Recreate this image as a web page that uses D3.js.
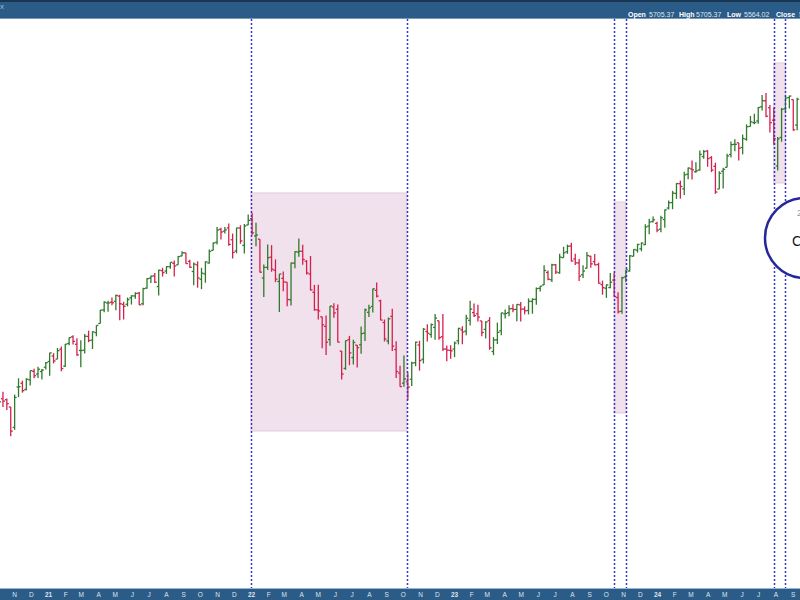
<!DOCTYPE html>
<html>
<head>
<meta charset="utf-8">
<script src="https://cdn.jsdelivr.net/npm/d3@7"></script>
<style>
  html, body { margin: 0; padding: 0; background: #fff; }
  svg { display: block; font-family: Arial, "Liberation Sans", sans-serif; }
</style>
</head>
<body>
<svg id="chart" width="800" height="600"></svg>
<script>
// ---------------- DATA ----------------
const firstWeek = "2020-10-05"; // Monday of the first weekly bar

const opens = [
  3348,3500,3493,3441,3296,3583,3610,3566,3634,3694,3675,3693,3723,
  3764,3803,3781,3851,3731,3892,3939,3886,3842,3844,3942,3916,3969,4034,4130,4179,4185,4192,4228,4169,4170,4216,4229,4249,4174,4285,4356,4372,4296,4409,4406,4437,4461,4450,4513,4535,4474,4403,4450,4348,4386,4463,4553,4610,4702,4689,4712,4628,4548,4711,4588,4733,
  4778,4655,4632,4357,4432,4505,4412,4332,4354,4327,4202,4462,4541,4547,4476,4385,4255,4130,4081,4013,3920,4151,4135,3838,3715,3920,3792,3880,3883,3966,4113,4155,4269,4195,4041,3910,4084,3849,3682,3610,3620,3638,3755,3881,3780,3977,3956,4006,4053,3940,3853,3843,
  3853,3911,3988,3979,4056,4111,4102,4052,3992,4055,3835,3918,3982,4102,4110,4140,4134,4166,4136,4126,4190,4205,4283,4308,4396,4344,4450,4394,4501,4543,4584,4492,4464,4380,4426,4511,4473,4452,4310,4284,4289,4342,4218,4121,4364,4406,4511,4554,4564,4593,4725,4758,
  4745,4703,4772,4853,4892,4957,5026,4989,5093,5131,5111,5123,5219,5258,5211,5149,4988,5114,5142,5233,5305,5316,5283,5341,5432,5459,5471,5572,5614,5565,5477,5152,5354,5557,5637,5623,5442
];
const highs = [
  3482,3550,3502,3441,3529,3645,3628,3645,3699,3712,3726,3711,3760,
  3826,3823,3860,3870,3889,3935,3950,3929,3915,3960,3983,3978,4020,4130,4191,4195,4219,4238,4237,4188,4218,4234,4255,4258,4287,4356,4372,4393,4415,4429,4440,4468,4481,4513,4546,4536,4486,4466,4475,4429,4475,4559,4608,4718,4714,4718,4744,4672,4713,4731,4740,4808,
  4818,4749,4632,4453,4595,4590,4489,4385,4402,4327,4465,4546,4637,4593,4483,4513,4308,4308,4082,4091,4158,4178,4168,3838,3913,3946,3918,3881,4012,4140,4167,4280,4325,4203,4062,4076,4139,3907,3733,3806,3685,3762,3905,3911,4001,4028,4034,4101,4053,4101,3877,3879,
  3906,4003,4015,4095,4195,4176,4166,4052,4049,4079,3937,4040,4110,4133,4163,4170,4170,4187,4155,4212,4212,4290,4299,4448,4409,4458,4456,4528,4578,4594,4607,4528,4491,4447,4541,4514,4527,4466,4338,4311,4393,4394,4256,4366,4415,4520,4560,4599,4609,4738,4778,4793,
  4755,4798,4842,4907,4975,5030,5048,5111,5141,5190,5179,5262,5265,5264,5222,5175,5114,5139,5239,5325,5342,5316,5375,5447,5506,5523,5570,5655,5669,5585,5566,5358,5563,5651,5651,5623,5636
];
const lows = [
  3342,3441,3419,3233,3279,3511,3543,3559,3594,3645,3647,3636,3707,
  3663,3750,3781,3694,3725,3880,3885,3805,3723,3820,3901,3853,3943,4034,4114,4118,4164,4128,4057,4062,4155,4168,4210,4165,4164,4280,4321,4321,4233,4367,4385,4422,4367,4450,4511,4457,4428,4305,4288,4278,4323,4460,4551,4595,4630,4672,4585,4495,4532,4600,4531,4733,
  4662,4582,4395,4222,4414,4401,4327,4115,4262,4157,4162,4425,4507,4450,4381,4268,4124,4062,3858,3811,3875,4074,3900,3636,3705,3738,3743,3722,3819,3910,4080,4112,4218,4057,3906,3886,3838,3647,3584,3585,3492,3590,3730,3699,3750,3906,3933,3919,3918,3838,3765,3784,
  3795,3885,3886,3950,4020,4079,4048,3944,3928,3847,3809,3888,3951,4069,4086,4114,4049,4048,4099,4098,4103,4166,4261,4307,4341,4328,4385,4386,4500,4528,4474,4449,4335,4356,4424,4430,4448,4316,4238,4216,4284,4223,4104,4103,4329,4402,4510,4537,4546,4591,4667,4751,
  4682,4682,4714,4842,4845,4918,4920,4946,5057,5056,5104,5118,5203,5146,5108,4954,4988,4991,5142,5211,5256,5191,5234,5331,5432,5447,5452,5546,5497,5390,5302,5120,5324,5535,5560,5402,5406
];
const closes = [
  3477,3483,3465,3270,3509,3585,3557,3638,3699,3663,3709,3703,3756,
  3825,3768,3841,3714,3887,3934,3907,3811,3842,3943,3913,3975,4020,4129,4185,4180,4181,4233,4174,4156,4204,4230,4247,4166,4281,4352,4370,4327,4412,4395,4437,4468,4442,4509,4535,4459,4433,4455,4357,4391,4471,4545,4605,4697,4683,4698,4595,4538,4712,4620,4726,4766,
  4677,4662,4398,4432,4501,4419,4349,4385,4329,4204,4463,4543,4546,4488,4392,4272,4132,4123,4024,3901,4158,4109,3901,3675,3912,3825,3899,3863,3962,4130,4145,4280,4228,4058,3924,4067,3873,3693,3586,3640,3583,3753,3901,3771,3993,3965,4026,4072,3934,3852,3845,3840,
  3895,3999,3973,4071,4136,4090,4079,3970,4045,3861,3917,3971,4109,4105,4138,4133,4169,4136,4124,4192,4205,4282,4299,4410,4348,4450,4399,4505,4536,4582,4478,4464,4370,4406,4516,4457,4450,4320,4288,4308,4327,4224,4117,4358,4415,4514,4559,4595,4604,4719,4754,4770,
  4697,4784,4840,4891,4959,5027,5006,5089,5137,5124,5117,5234,5254,5204,5123,4967,5100,5128,5223,5303,5305,5278,5347,5431,5465,5460,5567,5615,5505,5459,5346,5344,5554,5634,5648,5408,5626
];

// annotation lines (dotted verticals)
const eventDates = ["2022-01-01","2022-10-08","2023-10-16","2023-11-06","2024-07-29","2024-08-19"];
// shaded zones
const zoneStarts = ["2022-01-01","2023-10-16","2024-07-29"];
const zoneEnds   = ["2022-10-08","2023-11-06","2024-08-19"];
const zoneTops   = [4960, 4896, 5883];
const zoneBottoms= [3271, 3399, 5031];

// header quote
const quoteLabels = ["Open","High","Low","Close"];
const quoteValues = ["5705.37","5705.37","5564.02","5"];
const monthLetters = ["J","F","M","A","M","J","J","A","S","O","N","D"];
const axisFirstMonth = "2020-10-01";
const axisLastMonth = "2024-09-01";

// ---------------- SCALES ----------------
const W = 800, H = 600;
const plotTop = 19, plotBottom = 588;
const parse = d3.utcParse("%Y-%m-%d");

const x = d3.scaleUtc()
  .domain([parse("2021-01-01"), parse("2024-01-01")])
  .range([48, 657]);
const y = d3.scaleLinear()
  .domain([2156.5, 6329.7])
  .range([588, 0]);

const start = parse(firstWeek);
const bars = opens.map((o, i) => ({
  date: d3.utcDay.offset(start, 7 * i),
  o, h: highs[i], l: lows[i], c: closes[i]
}));

const svg = d3.select("#chart");
svg.append("rect").attr("width", W).attr("height", H).attr("fill", "#fff");

const plot = svg.append("g");

// shaded zones
plot.selectAll("rect.zone")
  .data(zoneStarts.map((s, i) => ({ s: parse(s), e: parse(zoneEnds[i]), t: zoneTops[i], b: zoneBottoms[i] })))
  .join("rect")
  .attr("class", "zone")
  .attr("x", d => x(d.s))
  .attr("width", d => x(d.e) - x(d.s))
  .attr("y", d => y(d.t))
  .attr("height", d => y(d.b) - y(d.t))
  .attr("fill", "#f0e1ec")
  .attr("stroke", "#e2c9dc")
  .attr("stroke-width", 1);

// OHLC bars
const green = "#2f7a2b", red = "#d5204e";
const gb = plot.selectAll("g.bar").data(bars).join("g")
  .attr("class", "bar")
  .attr("stroke", d => d.c >= d.o ? green : red)
  .attr("stroke-width", 1.3);
gb.append("line")
  .attr("x1", d => x(d.date)).attr("x2", d => x(d.date))
  .attr("y1", d => y(d.h)).attr("y2", d => y(d.l));
gb.append("line")
  .attr("x1", d => x(d.date) - 2).attr("x2", d => x(d.date))
  .attr("y1", d => y(d.o)).attr("y2", d => y(d.o));
gb.append("line")
  .attr("x1", d => x(d.date)).attr("x2", d => x(d.date) + 2)
  .attr("y1", d => y(d.c)).attr("y2", d => y(d.c));

// dotted event lines
plot.selectAll("line.evt").data(eventDates.map(parse)).join("line")
  .attr("class", "evt")
  .attr("x1", d => Math.round(x(d)) + 0.5).attr("x2", d => Math.round(x(d)) + 0.5)
  .attr("y1", plotTop).attr("y2", plotBottom)
  .attr("stroke", "#3535c8")
  .attr("stroke-width", 1.5)
  .attr("stroke-dasharray", "2,2");

// circle annotation
svg.append("circle")
  .attr("cx", 805).attr("cy", 238).attr("r", 40)
  .attr("fill", "#fff")
  .attr("stroke", "#26289a")
  .attr("stroke-width", 2.5);
svg.append("text").attr("x", 797).attr("y", 216)
  .attr("font-size", 9).attr("fill", "#999").text("2");
svg.append("text").attr("x", 792).attr("y", 246)
  .attr("font-size", 14).attr("fill", "#111").text("C");

// ---------------- HEADER ----------------
svg.append("rect").attr("x", 0).attr("y", 0).attr("width", W).attr("height", 19).attr("fill", "#2b5b87");
svg.append("rect").attr("x", 0).attr("y", 0).attr("width", W).attr("height", 2).attr("fill", "#1a3552");
svg.append("line").attr("x1", 0).attr("x2", W).attr("y1", 18.5).attr("y2", 18.5).attr("stroke", "#7d98b5");
svg.append("text").attr("x", 0).attr("y", 9).attr("font-size", 6).attr("fill", "#b9c9da").text("X");

const labelX = [628, 679, 727, 776];
const valueX = [649, 696, 744, 799];
const hdr = svg.append("g").attr("font-size", 7);
quoteLabels.forEach((lab, i) => {
  hdr.append("text").attr("x", labelX[i]).attr("y", 17).attr("font-weight", "bold").attr("fill", "#fff").text(lab);
  hdr.append("text").attr("x", valueX[i]).attr("y", 17).attr("fill", "#dfe7f0").text(quoteValues[i]);
});

// ---------------- BOTTOM AXIS ----------------
svg.append("rect").attr("x", 0).attr("y", plotBottom).attr("width", W).attr("height", H - plotBottom).attr("fill", "#2b5b87");
svg.append("line").attr("x1", 0).attr("x2", W).attr("y1", plotBottom + 0.5).attr("y2", plotBottom + 0.5).attr("stroke", "#9db5cf");

const monthTicks = d3.utcMonth.range(parse(axisFirstMonth), d3.utcDay.offset(parse(axisLastMonth), 1));
const axis = d3.axisBottom(x)
  .tickValues(monthTicks)
  .tickSize(0)
  .tickPadding(0)
  .tickFormat(d => d.getUTCMonth() === 0 ? d3.utcFormat("%y")(d) : monthLetters[d.getUTCMonth()]);
const ax = svg.append("g").attr("transform", `translate(0,${plotBottom})`).call(axis);
ax.select(".domain").remove();
ax.selectAll("text")
  .attr("y", 9)
  .attr("dy", null)
  .attr("font-size", 6.5)
  .attr("font-family", "Arial, 'Liberation Sans', sans-serif")
  .attr("fill", "#dde6ef")
  .attr("font-weight", d => d.getUTCMonth() === 0 ? "bold" : "normal");
</script>
</body>
</html>
